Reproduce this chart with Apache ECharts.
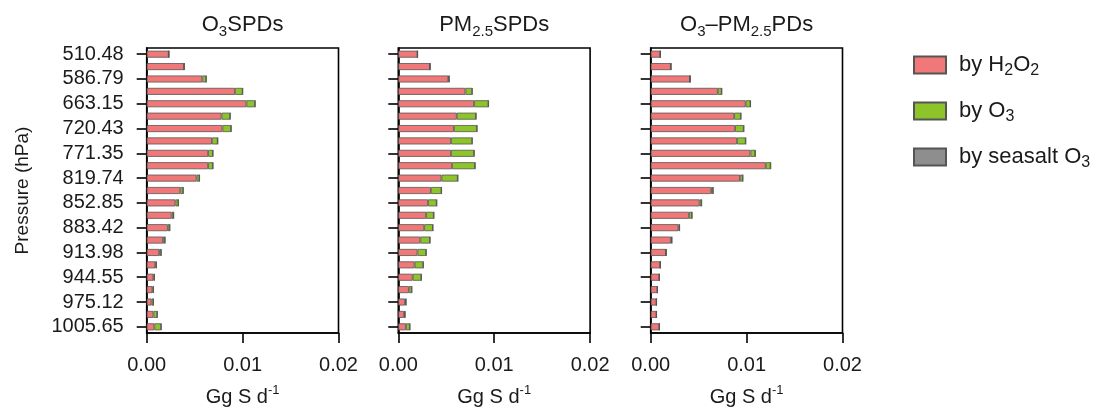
<!DOCTYPE html>
<html>
<head>
<meta charset="utf-8">
<script src="https://cdn.jsdelivr.net/npm/echarts@6/dist/echarts.min.js"></script>
<style>
html,body{margin:0;padding:0;background:#fff;}
#chart{width:1100px;height:412px;}
</style>
</head>
<body>
<div id="chart"></div>
<script>
// Pressure levels (hPa), top of atmosphere first
const pressureLevels = ['510.48','548.64','586.79','624.97','663.15','694.96','720.43','745.89','771.35','796.82','819.74','837.56','852.85','868.13','883.42','898.70','913.98','929.27','944.55','959.84','975.12','990.39','1005.65'];

// Panel 1: O3SPDs (Gg S d-1)
const o3spdH2O2    = [0.0023,0.0039,0.0058,0.0092,0.0104,0.0078,0.0079,0.0068,0.0064,0.0064,0.0052,0.0035,0.0030,0.0026,0.0022,0.0017,0.0013,0.0009,0.0007,0.0006,0.0005,0.0007,0.0008];
const o3spdO3      = [0.0000,0.0000,0.0004,0.0008,0.0009,0.0009,0.0009,0.0006,0.0005,0.0005,0.0003,0.0003,0.0003,0.0002,0.0002,0.0002,0.0002,0.0001,0.0001,0.0001,0.0002,0.0004,0.0007];
const o3spdSeasalt = [0.00003,0.00003,0.00002,0.00002,0.00002,0.00002,0.00002,0.00002,0.00002,0.00002,0.00002,0.00002,0.00002,0.00002,0.00002,0.00002,0.00002,0.00002,0.00002,0.00002,0.00002,0.00002,0.00003];

// Panel 2: PM2.5SPDs
const pmspdH2O2    = [0.0020,0.0033,0.0052,0.0070,0.0079,0.0061,0.0058,0.0055,0.0055,0.0056,0.0045,0.0034,0.0031,0.0029,0.0027,0.0023,0.0020,0.0017,0.0015,0.0011,0.0007,0.0006,0.0008];
const pmspdO3      = [0.0000,0.0000,0.0001,0.0007,0.0015,0.0020,0.0024,0.0022,0.0024,0.0024,0.0017,0.0011,0.0009,0.0008,0.0009,0.0010,0.0009,0.0009,0.0009,0.0003,0.0001,0.0001,0.0004];
const pmspdSeasalt = [0.00003,0.00003,0.00002,0.00002,0.00002,0.00002,0.00002,0.00002,0.00002,0.00002,0.00002,0.00002,0.00002,0.00002,0.00002,0.00002,0.00002,0.00002,0.00002,0.00002,0.00002,0.00002,0.00003];

// Panel 3: O3–PM2.5PDs
const pdH2O2    = [0.0010,0.0021,0.0041,0.0070,0.0099,0.0087,0.0088,0.0090,0.0104,0.0120,0.0093,0.0063,0.0051,0.0040,0.0029,0.0021,0.0016,0.0010,0.0009,0.0007,0.0006,0.0006,0.0009];
const pdO3      = [0.0000,0.0000,0.0000,0.0004,0.0005,0.0007,0.0009,0.0009,0.0005,0.0005,0.0003,0.0002,0.0002,0.0003,0.0001,0.0001,0.0000,0.0000,0.0000,0.0000,0.0000,0.0000,0.0000];
const pdSeasalt = [0.00003,0.00003,0.00002,0.00002,0.00002,0.00002,0.00002,0.00002,0.00002,0.00002,0.00002,0.00002,0.00002,0.00002,0.00002,0.00002,0.00002,0.00002,0.00002,0.00002,0.00002,0.00002,0.00003];

// x-axis ticks
const xTickValues = [0, 0.01, 0.02];

const seriesNames = ['by H2O2', 'by O3', 'by seasalt O3'];
const panelTitles = ['{n|O}{s|3}{n|SPDs}', '{n|PM}{s|2.5}{n|SPDs}', '{n|O}{s|3}{n|–PM}{s|2.5}{n|PDs}'];
const panelData = [
  [o3spdH2O2, o3spdO3, o3spdSeasalt],
  [pmspdH2O2, pmspdO3, pmspdSeasalt],
  [pdH2O2, pdO3, pdSeasalt]
];

const FONT = 'Liberation Sans, Arial, Helvetica, sans-serif';
const TXT = '#1a1a1a';
const colors = ['#f07878', '#8cc42a', '#8e8e8e'];
const gridLefts = [146.7, 398.3, 650.7];
const gridWidth = 191.8;

const grids = [], xAxes = [], yAxes = [], titles = [], series = [];
for (let i = 0; i < 3; i++) {
  grids.push({left: gridLefts[i], width: gridWidth, top: 48, bottom: 77, show: true, borderColor: '#000', borderWidth: 1.6, containLabel: false});
  titles.push({
    text: panelTitles[i], left: gridLefts[i] + gridWidth / 2, top: 11, textAlign: 'center', padding: 0,
    textStyle: {fontFamily: FONT, color: TXT, fontWeight: 'normal', rich: {
      n: {fontSize: 22, lineHeight: 28, fontFamily: FONT, color: TXT, fontWeight: 'normal'},
      s: {fontSize: 15, lineHeight: 15, verticalAlign: 'bottom', fontFamily: FONT, color: TXT, fontWeight: 'normal'}
    }}
  });
  xAxes.push({
    type: 'value', gridIndex: i, min: xTickValues[0], max: xTickValues[xTickValues.length - 1], interval: xTickValues[1] - xTickValues[0],
    splitLine: {show: false},
    axisLine: {show: true, lineStyle: {color: '#000', width: 1.6}},
    axisTick: {show: true, length: 10, lineStyle: {color: '#000', width: 1.6}},
    axisLabel: {fontFamily: FONT, fontSize: 20, color: TXT, margin: 22, formatter: v => v.toFixed(2)},
    name: '{n|Gg S d}{sup|-1}', nameLocation: 'middle', nameGap: 51,
    nameTextStyle: {fontFamily: FONT, color: TXT, rich: {
      n: {fontSize: 20, lineHeight: 26, fontFamily: FONT, color: TXT},
      sup: {fontSize: 13, lineHeight: 13, verticalAlign: 'top', fontFamily: FONT, color: TXT}
    }}
  });
  yAxes.push({
    type: 'category', gridIndex: i, inverse: true, data: pressureLevels,
    axisLine: {show: true, lineStyle: {color: '#000', width: 1.6}},
    axisTick: {show: true, alignWithLabel: true, interval: 1, length: 10, lineStyle: {color: '#000', width: 1.6}},
    axisLabel: {show: i === 0, interval: 1, fontFamily: FONT, fontSize: 20, color: TXT, margin: 23},
    name: i === 0 ? 'Pressure (hPa)' : '', nameLocation: 'middle', nameGap: 114,
    nameTextStyle: {fontFamily: FONT, fontSize: 19, color: TXT}
  });
  for (let k = 0; k < 3; k++) {
    series.push({
      type: 'bar', name: seriesNames[k], xAxisIndex: i, yAxisIndex: i, stack: 'p' + i,
      data: panelData[i][k], barWidth: 7,
      itemStyle: {color: colors[k], borderColor: '#555', borderWidth: 0.8},
      emphasis: {disabled: true}
    });
  }
}

const legendLabels = {
  'by H2O2': '{n|by H}{s|2}{n|O}{s|2}',
  'by O3': '{n|by O}{s|3}',
  'by seasalt O3': '{n|by seasalt O}{s|3}'
};

const chart = echarts.init(document.getElementById('chart'), null, {renderer: 'canvas'});
chart.setOption({
  backgroundColor: '#fff',
  animation: false,
  title: titles,
  grid: grids,
  xAxis: xAxes,
  yAxis: yAxes,
  legend: {
    data: seriesNames, orient: 'vertical', left: 908, top: 49,
    itemWidth: 32, itemHeight: 17, itemGap: 21.5, icon: 'rect',
    formatter: name => legendLabels[name],
    textStyle: {fontFamily: FONT, color: TXT, padding: [0, 0, 0, 8], rich: {
      n: {fontSize: 22, lineHeight: 27, fontFamily: FONT, color: TXT},
      s: {fontSize: 16, lineHeight: 16, verticalAlign: 'bottom', fontFamily: FONT, color: TXT}
    }}
  },
  series: series
});
</script>
</body>
</html>
